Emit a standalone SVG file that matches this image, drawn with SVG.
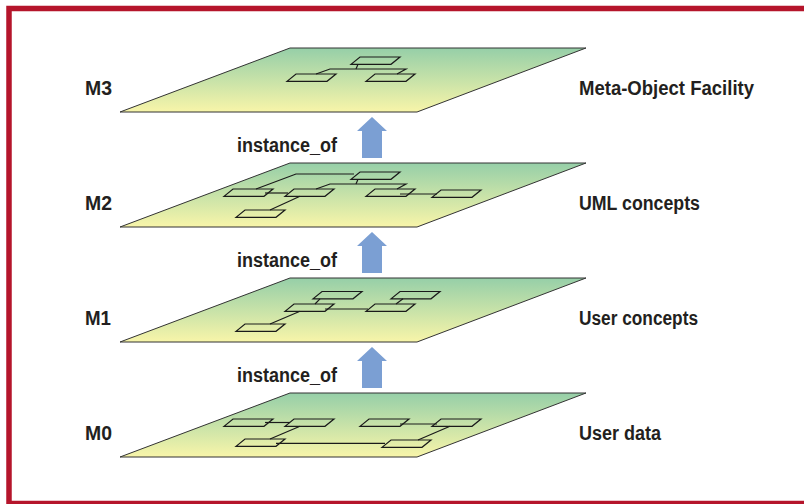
<svg xmlns="http://www.w3.org/2000/svg" xmlns:xlink="http://www.w3.org/1999/xlink" width="804" height="504" viewBox="0 0 804 504">
<defs>
<linearGradient id="pg" x1="0" y1="0" x2="0" y2="1">
<stop offset="0" stop-color="#96cfa8"/>
<stop offset="1" stop-color="#f8f5a9"/>
</linearGradient>
<path id="plane" d="M290,0 H586 L417,64 H120 Z"/>
<path id="box" d="M0,0 h40 l-9,7.3 h-40 z"/>
<path id="arr" d="M372,0 L387,14 H382 V41 H362 V14 H357 Z"/>
</defs>
<style>
.pl{fill:url(#pg);stroke:#333;stroke-width:1}
.bx{fill:none;stroke:#1a1a1a;stroke-width:1.2;stroke-linejoin:miter}
.ln{fill:none;stroke:#1a1a1a;stroke-width:1.2}
.ar{fill:#7b9fd3}
.t{font-family:"Liberation Sans",Arial,sans-serif;font-weight:bold;font-size:20px;fill:#231f20}
</style>
<rect x="9" y="8.5" width="805" height="495" fill="#fff" stroke="#b5152b" stroke-width="5.5"/>

<g id="M3">
<use href="#plane" class="pl" y="48"/>
<g class="bx">
<use href="#box" x="360" y="57"/>
<use href="#box" x="296" y="74"/>
<use href="#box" x="375" y="74"/>
</g>
<polyline class="ln" points="316,74 330,69 406,69 397,74"/>
<line class="ln" x1="358" y1="64.3" x2="356" y2="69"/>
<text class="t" x="85" y="95" textLength="27" lengthAdjust="spacingAndGlyphs">M3</text>
<text class="t" x="579" y="95" textLength="175" lengthAdjust="spacingAndGlyphs">Meta-Object Facility</text>
</g>

<g id="M2">
<use href="#plane" class="pl" y="163"/>
<g class="bx">
<use href="#box" x="360" y="172"/>
<use href="#box" x="233" y="189"/>
<use href="#box" x="294" y="189"/>
<use href="#box" x="375" y="189"/>
<use href="#box" x="441" y="190"/>
<use href="#box" x="245" y="210"/>
</g>
<polyline class="ln" points="256,189 296,174 354,174"/>
<polyline class="ln" points="316,189 330,184 406,184 397,189"/>
<line class="ln" x1="358" y1="179.3" x2="356" y2="184"/>
<line class="ln" x1="265" y1="193" x2="288" y2="193"/>
<line class="ln" x1="300" y1="196.3" x2="270" y2="210"/>
<line class="ln" x1="400" y1="194" x2="437" y2="194"/>
<text class="t" x="85" y="210" textLength="27" lengthAdjust="spacingAndGlyphs">M2</text>
<text class="t" x="579" y="210" textLength="121" lengthAdjust="spacingAndGlyphs">UML concepts</text>
</g>

<g id="M1">
<use href="#plane" class="pl" y="278"/>
<g class="bx">
<use href="#box" x="322" y="291.5"/>
<use href="#box" x="400" y="291.5"/>
<use href="#box" x="294" y="304"/>
<use href="#box" x="375" y="304"/>
<use href="#box" x="245" y="324"/>
</g>
<line class="ln" x1="320" y1="298.8" x2="315" y2="304"/>
<line class="ln" x1="325" y1="309" x2="368" y2="309"/>
<line class="ln" x1="396" y1="304" x2="403" y2="298.8"/>
<line class="ln" x1="300" y1="311.3" x2="270" y2="324"/>
<text class="t" x="85" y="325" textLength="26" lengthAdjust="spacingAndGlyphs">M1</text>
<text class="t" x="579" y="325" textLength="119" lengthAdjust="spacingAndGlyphs">User concepts</text>
</g>

<g id="M0">
<use href="#plane" class="pl" y="393"/>
<g class="bx">
<use href="#box" x="233" y="419"/>
<use href="#box" x="294" y="419"/>
<use href="#box" x="369" y="419"/>
<use href="#box" x="441" y="419"/>
<use href="#box" x="245" y="439"/>
<use href="#box" x="391" y="440"/>
</g>
<line class="ln" x1="265" y1="422.5" x2="290" y2="422.5"/>
<line class="ln" x1="300" y1="426.3" x2="270" y2="439"/>
<line class="ln" x1="400" y1="424" x2="437" y2="424"/>
<line class="ln" x1="450" y1="426.3" x2="418" y2="440"/>
<line class="ln" x1="276" y1="443.3" x2="385" y2="443.3"/>
<text class="t" x="85" y="440" textLength="27" lengthAdjust="spacingAndGlyphs">M0</text>
<text class="t" x="579" y="440" textLength="82" lengthAdjust="spacingAndGlyphs">User data</text>
</g>

<g id="connectors">
<use href="#arr" class="ar" y="117"/>
<use href="#arr" class="ar" y="232"/>
<use href="#arr" class="ar" y="347"/>
<text class="t" x="237" y="152" textLength="100" lengthAdjust="spacingAndGlyphs">instance_of</text>
<text class="t" x="237" y="267" textLength="100" lengthAdjust="spacingAndGlyphs">instance_of</text>
<text class="t" x="237" y="382" textLength="100" lengthAdjust="spacingAndGlyphs">instance_of</text>
</g>
</svg>
